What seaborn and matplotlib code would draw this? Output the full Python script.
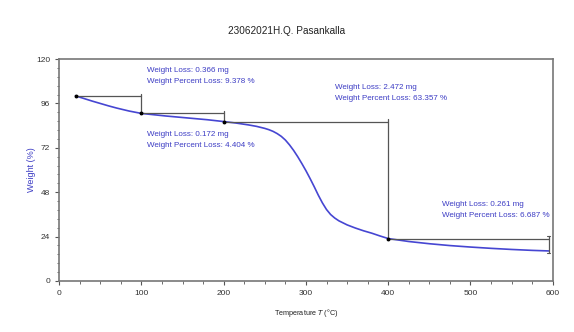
import numpy as np
import pandas as pd
import matplotlib
matplotlib.use("Agg")
import matplotlib.pyplot as plt
import seaborn as sns

# TGA curve: temperature (°C) vs. remaining weight (%)
temperature = [20, 25, 30, 40, 50, 60, 70, 85, 100, 115, 130, 145, 160, 180,
               200, 215, 230, 240, 250, 255, 260, 265, 270, 275, 280, 285,
               290, 295, 300, 305, 310, 315, 320, 325, 330, 335, 340, 350,
               360, 370, 380, 390, 400, 425, 450, 475, 500, 525, 550, 575, 595]
weight = [100.2, 99.4, 98.7, 97.3, 96.0, 94.7, 93.5, 91.9, 90.6, 89.9, 89.2,
          88.6, 88.0, 87.2, 86.2, 85.4, 84.4, 83.6, 82.5, 81.8, 80.9, 79.7,
          78.2, 76.2, 73.6, 70.6, 67.2, 63.5, 59.6, 55.4, 51.0, 46.4, 42.2,
          38.6, 35.9, 34.0, 32.5, 30.3, 28.6, 27.1, 25.8, 24.3, 22.9, 21.3,
          20.1, 19.1, 18.3, 17.6, 17.0, 16.5, 16.2]

# Weight-loss steps
step_bounds = [20, 100, 200, 400, 595]
loss_mg = [0.366, 0.172, 2.472, 0.261]
loss_pct = [9.378, 4.404, 63.357, 6.687]
label_x = [107, 107, 335, 465]
label_y = [110.8, 76.2, 101.6, 38.4]

x_ticks = [0, 100, 200, 300, 400, 500, 600]
y_ticks = [0, 24, 48, 72, 96, 120]

sns.set_style("ticks")
plt.rcParams["font.family"] = ["Liberation Sans", "DejaVu Sans"]

fig = plt.figure(figsize=(5.74, 3.32), dpi=100)
ax = fig.add_axes([0.103, 0.154, 0.860, 0.668])

df = pd.DataFrame({"Temperature": temperature, "Weight": weight})
curve_color = "#4646d2"
text_color = "#3c3cc4"
sns.lineplot(data=df, x="Temperature", y="Weight", ax=ax, color=curve_color,
             linewidth=1.2)

# Step brackets
w_start = 100.0
levels = [w_start]
for p in loss_pct:
    levels.append(levels[-1] - p)
for i in range(len(loss_pct)):
    t0, t1 = step_bounds[i], step_bounds[i + 1]
    w0, w1 = levels[i], levels[i + 1]
    ax.plot([t0, t1], [w0, w0], color="#555555", lw=0.9, zorder=3)
    ax.plot([t1, t1], [w0 + 1.3, w1 - (1.3 if i == 3 else 0)],
            color="#555555", lw=0.9, zorder=3)
    if i == 3:
        for yy in (w0 + 1.3, w1 - 1.3):
            ax.plot([t1 - 2, t1 + 2], [yy, yy], color="#555555", lw=0.8)
    ax.plot([t0], [w0], marker="o", ms=1.8, color="black", zorder=4)
    ax.text(label_x[i], label_y[i],
            f"Weight Loss: {loss_mg[i]:.3f} mg\nWeight Percent Loss: {loss_pct[i]:.3f} %",
            color=text_color, fontsize=5.8, va="center", ha="left",
            linespacing=1.85)

ax.set_xlim(0, 600)
ax.set_ylim(0, 120)
ax.set_xticks(x_ticks)
ax.set_yticks(y_ticks)
ax.set_xticks(np.arange(0, 601, 25), minor=True)
ax.set_yticks(np.arange(0, 120.1, 4.8), minor=True)
ax.tick_params(axis="both", which="major", labelsize=6, length=3,
               width=0.8, color="#555555", labelcolor="#333333", direction="out")
ax.tick_params(axis="both", which="minor", length=1.8, width=0.6,
               color="#555555", direction="out")
for s in ax.spines.values():
    s.set_visible(True)
    s.set_color("#777777")
    s.set_linewidth(1.2)

ax.set_xlabel("Temperature $T$ (°C)", fontsize=5.2, color="#222222", labelpad=7)
ax.set_ylabel("Weight (%)", fontsize=6.5, color=text_color, labelpad=0)
fig.text(0.5, 0.906, "23062021H.Q. Pasankalla", ha="center", va="center",
         fontsize=7.2, color="#222222")

fig.savefig("out.png", dpi=100)
